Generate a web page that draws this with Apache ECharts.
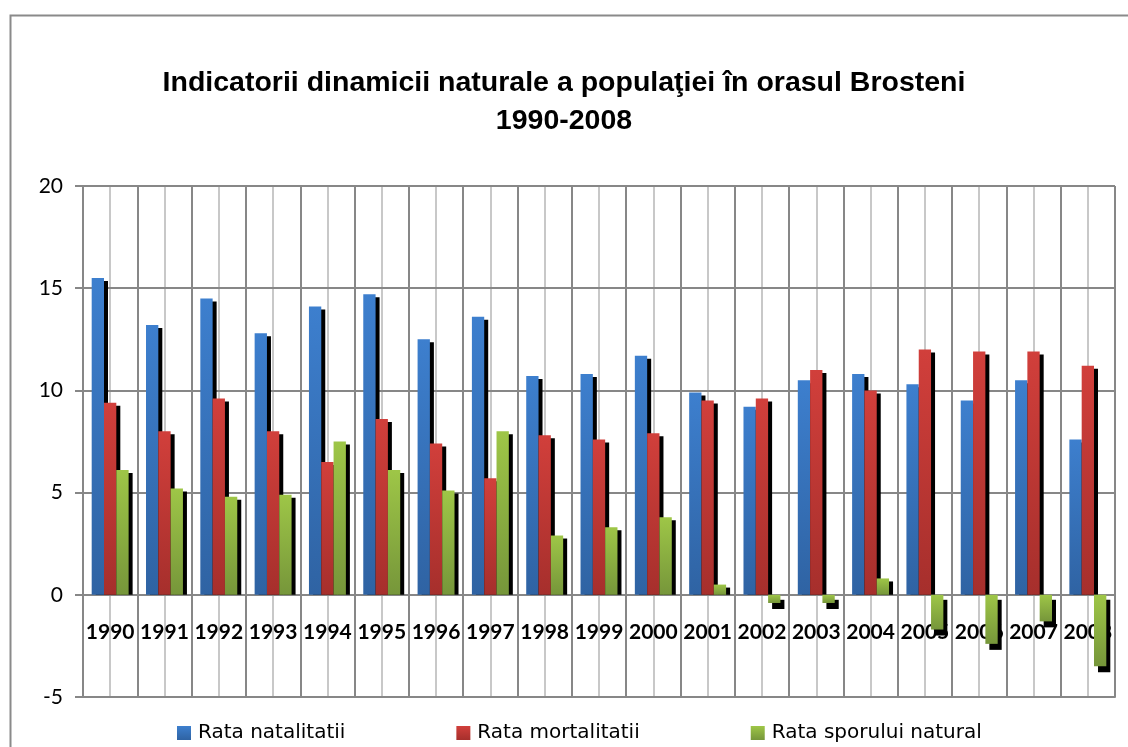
<!DOCTYPE html>
<html>
<head>
<meta charset="utf-8">
<script src="https://cdn.jsdelivr.net/npm/echarts@6/dist/echarts.min.js"></script>
<style>
  html, body { margin: 0; padding: 0; background: #fff; }
  #chart { width: 1128px; height: 747px; }
</style>
</head>
<body>
<div id="chart"></div>
<script>
// Ani
const years = ['1990','1991','1992','1993','1994','1995','1996','1997','1998','1999',
               '2000','2001','2002','2003','2004','2005','2006','2007','2008'];
// Rata natalitatii (‰)
const natalitate = [15.5, 13.2, 14.5, 12.8, 14.1, 14.7, 12.5, 13.6, 10.7, 10.8,
                    11.7, 9.9, 9.2, 10.5, 10.8, 10.3, 9.5, 10.5, 7.6];
// Rata mortalitatii (‰)
const mortalitate = [9.4, 8.0, 9.6, 8.0, 6.5, 8.6, 7.4, 5.7, 7.8, 7.6,
                     7.9, 9.5, 9.6, 11.0, 10.0, 12.0, 11.9, 11.9, 11.2];
// Rata sporului natural (‰)
const spor = [6.1, 5.2, 4.8, 4.9, 7.5, 6.1, 5.1, 8.0, 2.9, 3.3,
              3.8, 0.5, -0.4, -0.4, 0.8, -1.7, -2.4, -1.3, -3.5];
// Axa valorilor
const yTicks = { min: -5, max: 20, step: 5 };

const seriesNames = ['Rata natalitatii', 'Rata mortalitatii', 'Rata sporului natural'];

function grad(top, bottom) {
  return new echarts.graphic.LinearGradient(0, 0, 0, 1, [
    { offset: 0, color: top },
    { offset: 1, color: bottom }
  ]);
}
const fills = [
  grad('#3d7fce', '#2f63a3'),
  grad('#d13f3b', '#a62f2c'),
  grad('#9ec647', '#76963a')
];

const W = 1128, H = 747;
const gridL = 83, gridR = 13, gridT = 186, gridB = 50;
const band = (W - gridL - gridR) / years.length;
const plotH = H - gridT - gridB;
// distance from the zero line down to the bottom of the plot
const zeroToBottom = plotH * (0 - yTicks.min) / (yTicks.max - yTicks.min);
const GROUP_FILL = 0.68;      // share of each category taken by the three bars
const SH_X = 4;               // drop shadow offset to the right

// Each bar is drawn with a black drop shadow behind it; positive bars keep
// their shadow above the zero line, negative bars cast it downward.
function barRenderer(slot, fill) {
  return function (params, api) {
    const idx = api.value(0);
    const val = api.value(1);
    const base = api.coord([idx, 0]);
    const tip = api.coord([idx, val]);
    const bw = api.size([1, 0])[0] * GROUP_FILL / 3;
    const x = base[0] - 1.5 * bw + slot * bw;
    const y0 = base[1], y1 = tip[1];
    let shadow;
    if (val >= 0) {
      shadow = { x: x + SH_X, y: y1 + 3, width: bw, height: Math.max(0, y0 - y1 - 3) };
    } else {
      shadow = { x: x + SH_X, y: y0 + 5, width: bw, height: (y1 - y0) + 1 };
    }
    return {
      type: 'group',
      children: [
        { type: 'rect', shape: shadow, style: { fill: '#000' } },
        {
          type: 'rect',
          shape: { x: x, y: Math.min(y0, y1), width: bw, height: Math.abs(y1 - y0) },
          style: { fill: fill }
        }
      ]
    };
  };
}

const chart = echarts.init(document.getElementById('chart'), null, { renderer: 'canvas' });

const barSeries = [natalitate, mortalitate, spor].map((vals, i) => ({
  name: seriesNames[i],
  type: 'custom',
  xAxisIndex: 0,
  yAxisIndex: 0,
  data: vals.map((v, k) => [k, v]),
  encode: { x: 0, y: 1 },
  itemStyle: { color: fills[i] },
  renderItem: barRenderer(i, fills[i]),
  clip: false,
  silent: true,
  animation: false
}));

chart.setOption({
  animation: false,
  backgroundColor: '#fff',
  title: {
    text: 'Indicatorii dinamicii naturale a populaţiei în orasul Brosteni\n1990-2008',
    left: 'center',
    top: 59,
    textStyle: {
      fontFamily: 'Liberation Sans',
      fontWeight: 'bold',
      fontSize: 28.5,
      lineHeight: 38,
      color: '#000'
    }
  },
  graphic: [{
    type: 'rect',
    left: 8, top: 13,
    shape: { width: 1140, height: 760 },
    style: { fill: 'none', stroke: '#8a8a8a', lineWidth: 2 },
    silent: true
  }],
  legend: {
    data: seriesNames,
    left: 177,
    top: 723,
    padding: 0,
    itemWidth: 14,
    itemHeight: 14,
    itemGap: 111,
    icon: 'rect',
    textStyle: { fontFamily: 'DejaVu Sans', fontSize: 20, color: '#000', padding: [0, 0, 0, 2] }
  },
  grid: [
    { left: gridL, right: gridR, top: gridT, bottom: gridB },
    // helper grid offset by half a band: carries the lighter lines at the category centres
    { left: gridL + band / 2, right: gridR + band / 2, top: gridT, bottom: gridB }
  ],
  xAxis: [
    {
      type: 'category',
      gridIndex: 0,
      data: years,
      position: 'bottom',
      z: 1,
      axisLine: { onZero: false, lineStyle: { color: '#878787', width: 2 } },
      axisTick: { show: false },
      axisLabel: {
        interval: 0,
        // year labels sit just under the zero line
        margin: 27 - zeroToBottom,
        fontFamily: 'Lato',
        fontWeight: 'bold',
        fontSize: 21,
        color: '#000'
      },
      splitLine: { show: true, interval: 0, lineStyle: { color: '#878787', width: 2 } }
    },
    {
      type: 'value',
      gridIndex: 1,
      min: 0,
      max: years.length - 1,
      interval: 1,
      z: 0,
      axisLine: { show: false },
      axisTick: { show: false },
      axisLabel: { show: false },
      splitLine: { show: true, lineStyle: { color: '#c8c8c8', width: 2 } }
    }
  ],
  yAxis: [
    {
      type: 'value',
      gridIndex: 0,
      min: yTicks.min,
      max: yTicks.max,
      interval: yTicks.step,
      z: 1,
      axisLine: { show: true, lineStyle: { color: '#878787', width: 2 } },
      axisTick: { show: true, inside: false, length: 8, lineStyle: { color: '#878787', width: 2 } },
      axisLabel: { margin: 20, fontFamily: 'Lato', fontSize: 21, color: '#000' },
      splitLine: { show: true, lineStyle: { color: '#878787', width: 2 } }
    },
    {
      type: 'value',
      gridIndex: 1,
      min: yTicks.min,
      max: yTicks.max,
      show: false,
      splitLine: { show: false }
    }
  ],
  series: barSeries
});
</script>
</body>
</html>
